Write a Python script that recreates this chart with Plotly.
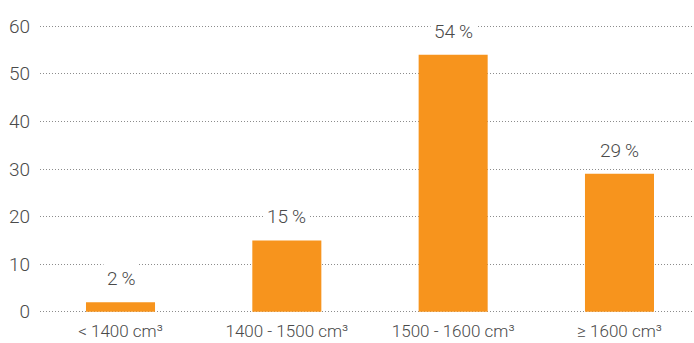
import plotly.graph_objects as go

categories = ["< 1400 cm³", "1400 - 1500 cm³", "1500 - 1600 cm³", "≥ 1600 cm³"]
shares = [2, 15, 54, 29]
y_ticks = [0, 10, 20, 30, 40, 50, 60]

BAR_COLOR = "#F7941D"
TEXT_COLOR = "#4a4a4a"
FONT = "Roboto"

fig = go.Figure(
    go.Bar(
        x=list(range(len(categories))),
        y=shares,
        width=0.415,
        marker=dict(color=BAR_COLOR, line=dict(width=0)),
        hoverinfo="skip",
    )
)

# value labels above each bar, on a white patch that masks the grid
for i, v in enumerate(shares):
    fig.add_annotation(
        x=i, y=v, text=f"{v}\u2009%", showarrow=False,
        yanchor="bottom", yshift=8,
        bgcolor="white", borderpad=3,
        font=dict(family=FONT, size=19, color=TEXT_COLOR, weight=300),
    )

fig.update_layout(
    width=694, height=343,
    margin=dict(l=40, r=0, t=25, b=30),
    plot_bgcolor="white", paper_bgcolor="white",
    showlegend=False,
    font=dict(family=FONT, size=18, color=TEXT_COLOR, weight=300),
    xaxis=dict(
        range=[-0.484, 3.448],
        tickvals=list(range(len(categories))),
        ticktext=categories,
        showgrid=False, zeroline=False, showline=False,
        ticks="", ticklabelstandoff=6,
        tickfont=dict(size=17, weight=300),
    ),
    yaxis=dict(
        range=[-0.25, 60.25],
        tickvals=y_ticks,
        showgrid=True, gridcolor="#8c8c8c", griddash="1px,2px", gridwidth=1,
        zeroline=False, showline=False, ticks="",
        ticklabelstandoff=9,
        tickfont=dict(size=19, weight=300),
    ),
)

fig.write_html("out.html")
